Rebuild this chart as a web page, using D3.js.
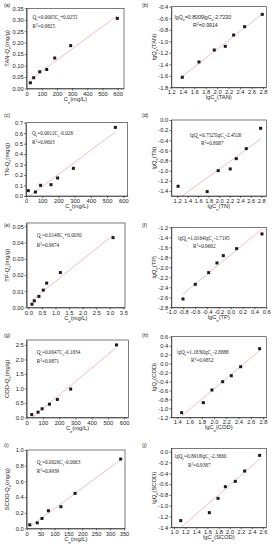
<!DOCTYPE html>
<html><head><meta charset="utf-8">
<script src="https://cdn.jsdelivr.net/npm/d3@7"></script>
<style>body{margin:0;background:#fff} svg{display:block}</style>
</head><body><svg id="c" width="276" height="550"></svg>
<script>
// ---------- data ----------
const panelLabels = ["(a)","(b)","(c)","(d)","(e)","(f)","(g)","(h)","(i)","(j)"];
const xTitles = ["C_e(mg/L)","lgC_e(TAN)","C_e(mg/L)","lgC_e(TN)","C_e(mg/L)","lgC_e(TP)","C_e(mg/L)","lgC_e(COD)","C_e(mg/L)","lgC_e(SCOD)"];
const yTitles = ["TAN-Q_e(mg/g)","lgQ_e(TAN)","TN-Q_e(mg/g)","lgQ_e(TN)","TP-Q_e(mg/g)","lgQ_e(TP)","COD-Q_e(mg/g)","lgQ_e(COD)","SCOD-Q_e(mg/g)","lgQ_e(SCOD)"];
const equations = ["Q_e=0.0005C_e+0.0255","lgQ_e=0.8009lgC_e-2.7230","Q_e=0.0012C_e-0.026","lgQ_e=0.7525lgC_e-2.4526","Q_e=0.0148C_e+0.0030","lgQ_e=1.0164lgC_e-1.7195","Q_e=0.0047C_e-0.1834","lgQ_e=1.1830lgC_e-2.8888","Q_e=0.0026C_e-0.0063","lgQ_e=0.8918lgC_e-2.3860"];
const r2Texts = ["R^2=0.9825","R^2=0.9914","R^2=0.9603","R^2=0.8087","R^2=0.9674","R^2=0.9662","R^2=0.9871","R^2=0.9852","R^2=0.9939","R^2=0.9387"];

const ceTAN   = [24, 46, 86, 132, 185, 290, 598];
const qeTAN   = [0.025, 0.047, 0.073, 0.083, 0.133, 0.187, 0.306];
const lgCeTAN = [1.392, 1.683, 1.950, 2.142, 2.288, 2.480, 2.788];
const lgQeTAN = [-1.626, -1.360, -1.152, -1.088, -0.892, -0.747, -0.533];

const ceTN    = [14, 58, 90, 154, 195, 292, 551];
const qeTN    = [0.051, 0.038, 0.102, 0.108, 0.172, 0.264, 0.655];
const lgCeTN  = [1.219, 1.771, 1.981, 2.210, 2.324, 2.514, 2.787];
const lgQeTN  = [-1.308, -1.413, -0.999, -0.966, -0.763, -0.565, -0.164];

const ceTP    = [0.135, 0.22, 0.39, 0.55, 0.675, 1.18, 3.12];
const qeTP    = [0.0020, 0.0041, 0.0068, 0.0107, 0.0150, 0.0215, 0.0430];
const lgCeTP  = [-0.803, -0.596, -0.371, -0.231, -0.124, 0.100, 0.527];
const lgQeTP  = [-2.633, -2.340, -2.107, -1.913, -1.767, -1.627, -1.333];

const ceCOD   = [31, 70, 95, 140, 189, 271, 553];
const qeCOD   = [0.10, 0.184, 0.30, 0.46, 0.622, 0.98, 2.50];
const lgCeCOD = [1.471, 1.825, 1.966, 2.141, 2.282, 2.435, 2.745];
const lgQeCOD = [-1.097, -0.873, -0.590, -0.405, -0.271, -0.070, 0.332];

const ceSCOD   = [11, 38, 55, 78, 123, 174, 338];
const qeSCOD   = [0.047, 0.072, 0.128, 0.226, 0.277, 0.447, 0.885];
const lgCeSCOD = [1.120, 1.635, 1.791, 1.923, 2.102, 2.270, 2.540];
const lgQeSCOD = [-1.277, -1.129, -0.864, -0.648, -0.549, -0.358, -0.068];

const seriesX = [ceTAN, lgCeTAN, ceTN, lgCeTN, ceTP, lgCeTP, ceCOD, lgCeCOD, ceSCOD, lgCeSCOD];
const seriesY = [qeTAN, lgQeTAN, qeTN, lgQeTN, qeTP, lgQeTP, qeCOD, lgQeCOD, qeSCOD, lgQeSCOD];

// ---------- layout (axes settings / positions) ----------
const L = [
 {xr:[26.7,124], yr:[88.5,8.3], xd:[0,642], yd:[0,0.35], xt:[0,100,7], yt:[0,0.05,8], xf:".0f", yf:".2f", eq:[32.5,16.7], r2:[32.5,26], lab:[4,5], serif:true},
 {xr:[171.3,266.3], yr:[87.3,6.7], xd:[1.2,2.858], yd:[-1.8,-0.4], xt:[1.2,0.2,9], yt:[-1.8,0.2,8], xf:".1f", yf:".1f", eq:[174.7,16.7], r2:[193,25], lab:[142,5], serif:false},
 {xr:[26,127.7], yr:[196,122.7], xd:[0,627], yd:[0,0.7], xt:[0,100,7], yt:[0,0.1,8], xf:".0f", yf:".1f", eq:[32,133], r2:[32,142], lab:[4,115], serif:true},
 {xr:[171.3,266.3], yr:[196,120], xd:[1.09,2.895], yd:[-1.5,0], xt:[1.2,0.2,9], yt:[-1.4,0.2,8], xf:".1f", yf:".1f", eq:[189.7,135], r2:[201,143], lab:[142,115], serif:true},
 {xr:[26.7,125], yr:[307.5,223], xd:[-0.06,3.56], yd:[0,0.052], xt:[0,0.5,8], yt:[0,0.01,6], xf:".1f", yf:".2f", eq:[36.7,235], r2:[36.7,245], lab:[4,225], serif:true},
 {xr:[171.3,266.3], yr:[307.3,227.3], xd:[-1.0,0.6], yd:[-2.8,-1.2], xt:[-1.0,0.2,9], yt:[-2.8,0.2,9], xf:".1f", yf:".1f", eq:[178,238], r2:[193,246], lab:[142,225], serif:true},
 {xr:[26.7,128.3], yr:[417.5,340], xd:[0,626], yd:[0,2.67], xt:[0,100,7], yt:[0,0.5,6], xf:".0f", yf:".1f", eq:[36.7,351.7], r2:[36.7,361], lab:[4,335], serif:true},
 {xr:[171.3,266.3], yr:[417.3,336.7], xd:[1.302,2.854], yd:[-1.2,0.6], xt:[1.4,0.2,8], yt:[-1.2,0.2,10], xf:".1f", yf:".1f", eq:[177,351.7], r2:[191,360], lab:[142,335], serif:true},
 {xr:[26.7,125], yr:[528.5,450], xd:[0,353.6], yd:[0,1.0], xt:[0,50,8], yt:[0,0.2,6], xf:".0f", yf:".1f", eq:[36.7,461.7], r2:[36.7,470.7], lab:[4,445], serif:true},
 {xr:[171.3,266.3], yr:[527.3,448.3], xd:[0.95,2.66], yd:[-1.4,0.063], xt:[1.0,0.2,9], yt:[-1.4,0.2,8], xf:".1f", yf:".1f", eq:[174.7,456], r2:[188,465], lab:[142,445], serif:true}
];

const svg = d3.select("#c");
svg.append("rect").attr("width",276).attr("height",550).attr("fill","#fff");
const SANS = "'Liberation Sans', Arial, sans-serif";
const SERIF = "'Liberation Serif', 'Times New Roman', serif";

function rich(t, s){
  s.split(/(_e|\^2)/).forEach(p=>{
    if(p==="_e") t.append("tspan").attr("baseline-shift","sub").attr("font-size","70%").text("e");
    else if(p==="^2") t.append("tspan").attr("baseline-shift","super").attr("font-size","70%").text("2");
    else if(p.length) t.append("tspan").text(p);
  });
}
const fix = f => v => d3.format(f)(v).replace("\u2212","-");

function linreg(xs, ys){
  const mx = d3.mean(xs), my = d3.mean(ys);
  let sxy=0, sxx=0;
  xs.forEach((x,i)=>{ sxy += (x-mx)*(ys[i]-my); sxx += (x-mx)*(x-mx); });
  const b = sxy/sxx; return [b, my - b*mx];
}

L.forEach((c, i) => {
  const g = svg.append("g");
  const x = d3.scaleLinear().domain(c.xd).range(c.xr);
  const y = d3.scaleLinear().domain(c.yd).range(c.yr);
  const xt = d3.range(c.xt[2]).map(k => Math.round((c.xt[0]+k*c.xt[1])*1e6)/1e6);
  const yt = d3.range(c.yt[2]).map(k => Math.round((c.yt[0]+k*c.yt[1])*1e6)/1e6);

  const clipId = "clip"+i;
  svg.append("clipPath").attr("id",clipId).append("rect")
    .attr("x",c.xr[0]).attr("y",c.yr[1]).attr("width",c.xr[1]-c.xr[0]).attr("height",c.yr[0]-c.yr[1]);

  // fit line
  const xs = seriesX[i], ys = seriesY[i];
  const [b, a] = linreg(xs, ys);
  const x0 = d3.min(xs), x1 = d3.max(xs);
  g.append("line").attr("clip-path",`url(#${clipId})`)
    .attr("x1",x(x0)).attr("y1",y(a+b*x0)).attr("x2",x(x1)).attr("y2",y(a+b*x1))
    .attr("stroke","#e6a3a3").attr("stroke-width",0.7);

  // frame
  g.append("rect").attr("x",c.xr[0]).attr("y",c.yr[1]).attr("width",c.xr[1]-c.xr[0]).attr("height",c.yr[0]-c.yr[1])
    .attr("fill","none").attr("stroke","#222").attr("stroke-width",0.6);

  // axes
  const ax = g.append("g").attr("transform",`translate(0,${c.yr[0]})`)
    .call(d3.axisBottom(x).tickValues(xt).tickFormat(fix(c.xf)).tickSize(2).tickSizeOuter(0));
  const ay = g.append("g").attr("transform",`translate(${c.xr[0]},0)`)
    .call(d3.axisLeft(y).tickValues(yt).tickFormat(fix(c.yf)).tickSize(2).tickSizeOuter(0));
  [ax, ay].forEach(a => {
    a.selectAll("path,line").attr("stroke","#222").attr("stroke-width",0.6);
    a.selectAll("text").attr("font-family",SANS).attr("font-size",5.8).attr("fill","#222");
  });
  ax.selectAll("text").attr("dy","0.72em").attr("y",3);
  ay.selectAll("text").attr("x",-3);

  // points
  g.selectAll("rect.pt").data(xs.map((v,k)=>[v, ys[k]])).join("rect").attr("class","pt")
    .attr("x",d=>x(d[0])-1.5).attr("y",d=>y(d[1])-1.5).attr("width",3).attr("height",3).attr("fill","#1a1a1a");

  // titles
  const xc = (c.xr[0]+c.xr[1])/2, yc = (c.yr[0]+c.yr[1])/2;
  rich(g.append("text").attr("x",xc).attr("y",c.yr[0]+12).attr("text-anchor","middle")
    .attr("font-family",SANS).attr("font-size",5.8).attr("fill","#222"), xTitles[i]);
  const ylx = c.xr[0] < 100 ? 7 : 154;
  rich(g.append("text").attr("transform",`translate(${ylx},${yc}) rotate(-90)`).attr("text-anchor","middle")
    .attr("dominant-baseline","central").attr("font-family",SANS).attr("font-size",5.8).attr("fill","#222"), yTitles[i]);

  // equation texts
  const ff = c.serif ? SERIF : SANS;
  rich(g.append("text").attr("x",c.eq[0]).attr("y",c.eq[1]+1.8).attr("font-family",ff).attr("font-size",5.2).attr("fill","#222"), equations[i]);
  rich(g.append("text").attr("x",c.r2[0]).attr("y",c.r2[1]+1.8).attr("font-family",ff).attr("font-size",5.2).attr("fill","#222"), r2Texts[i]);

  g.append("text").attr("x",c.lab[0]).attr("y",c.lab[1]+2).attr("font-family",SANS).attr("font-size",5.2).attr("fill","#222").text(panelLabels[i]);
});
</script></body></html>
